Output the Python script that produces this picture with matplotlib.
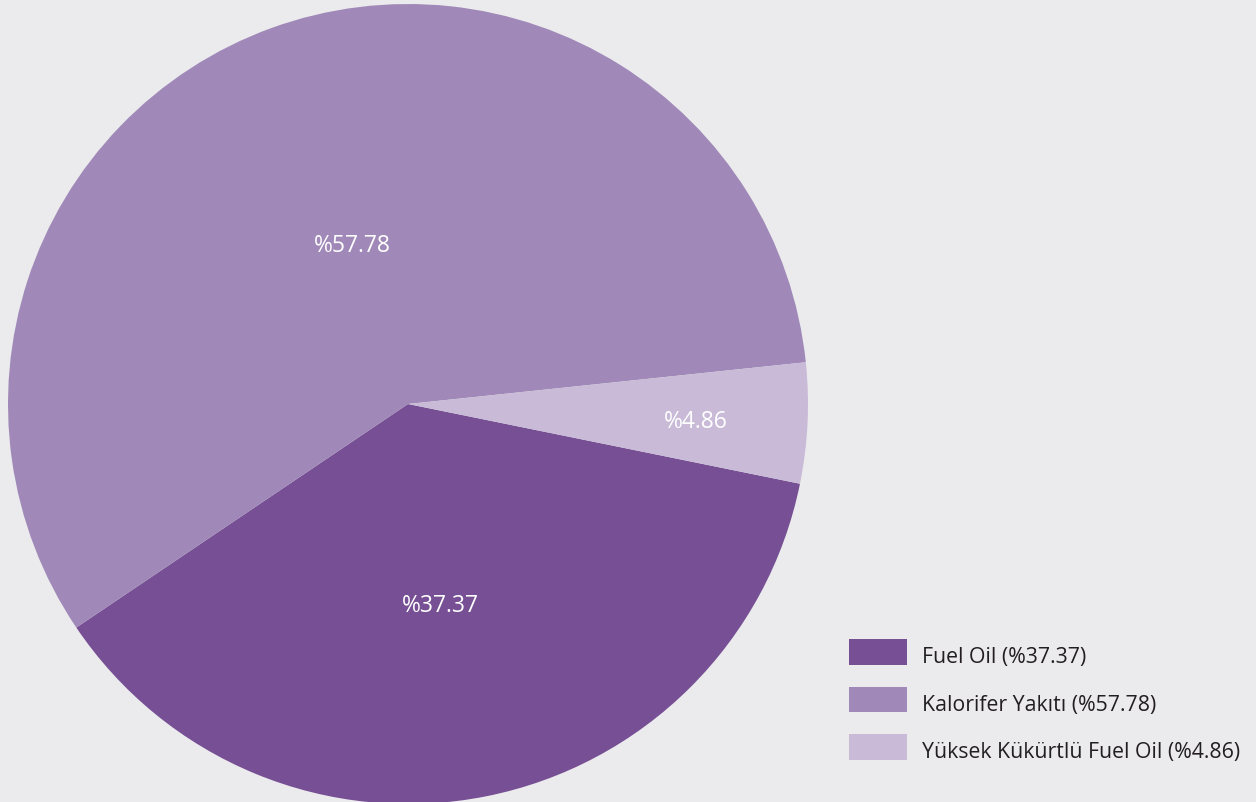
import matplotlib
matplotlib.use("Agg")
import matplotlib.pyplot as plt
from matplotlib.patches import Rectangle
import numpy as np

labels = ["Fuel Oil", "Kalorifer Yakıtı", "Yüksek Kükürtlü Fuel Oil"]
values = [37.37, 57.78, 4.86]
colors = ["#774f94", "#a089b8", "#c9bbd7"]
label_radius = [0.51, 0.42, 0.72]
label_shift = [-2.0, -0.8, -0.7]   # degrees

W, H = 1256, 803
bg = "#ebebed"
plt.rcParams['font.family'] = ['Open Sans', 'DejaVu Sans']

fig = plt.figure(figsize=(W / 100, H / 100), dpi=100, facecolor=bg)
cx, cy, r = 408, 405, 400
ax = fig.add_axes([(cx - r) / W, (H - cy - r) / H, 2 * r / W, 2 * r / H])
ax.set_facecolor(bg)
wedges, _ = ax.pie(values, colors=colors, startangle=-11.5, counterclock=False,
                   radius=1.0, wedgeprops=dict(linewidth=0))
ax.set_xlim(-1, 1)
ax.set_ylim(-1, 1)
ax.set_aspect('equal')
ax.axis('off')

for w, v, lr, sh in zip(wedges, values, label_radius, label_shift):
    ang = np.deg2rad((w.theta1 + w.theta2) / 2 + sh)
    ax.text(lr * np.cos(ang), lr * np.sin(ang), f"%{v:.2f}", color="white",
            ha="center", va="center", fontsize=16.5)

# legend (figure pixel layout)
lx, ltop, lw, lh, lstep = 849, 640, 58, 25.5, 47.5
for i, (w, l, v) in enumerate(zip(wedges, labels, values)):
    top = ltop + i * lstep
    fig.add_artist(Rectangle((lx / W, 1 - (top + lh) / H), lw / W, lh / H,
                             facecolor=w.get_facecolor(), edgecolor="none",
                             transform=fig.transFigure))
    fig.text(922 / W, 1 - (top + 23.3) / H, f"{l} (%{v:.2f})", fontsize=15.3,
             color="#231f20", ha="left", va="baseline")

fig.savefig("out.png", dpi=100, facecolor=bg)
